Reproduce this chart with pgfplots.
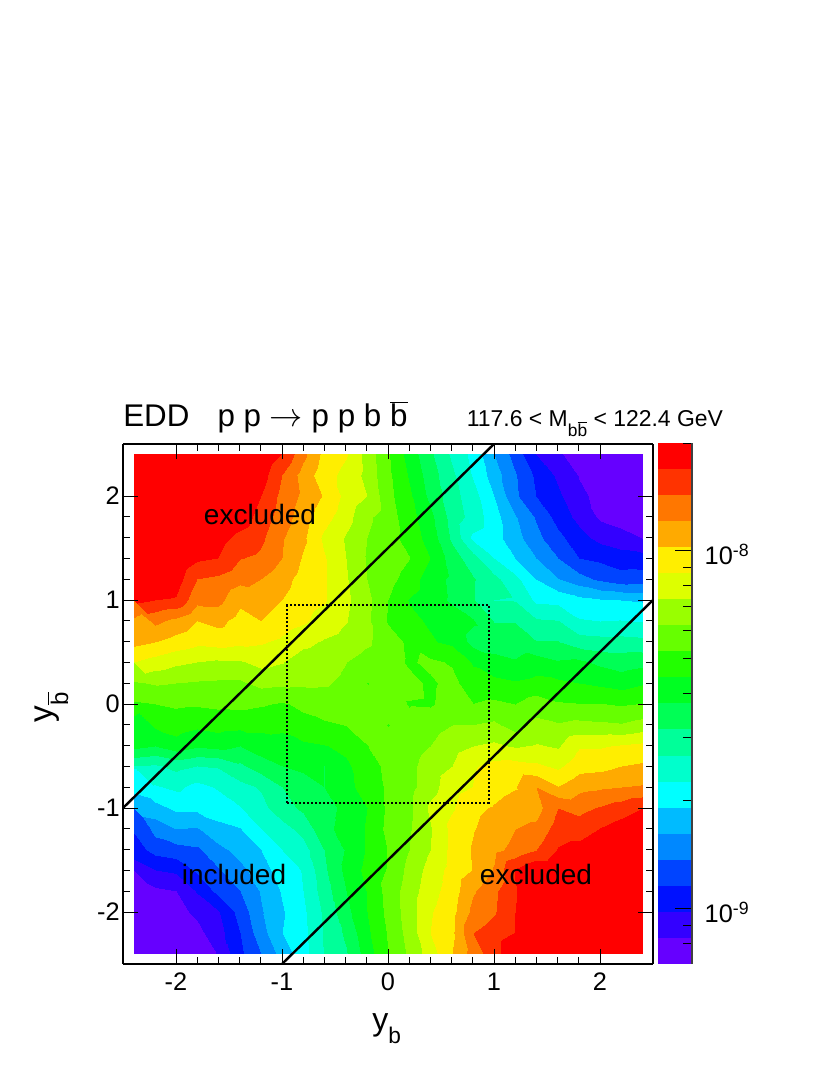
\documentclass[border=0pt]{standalone}
\usepackage{pgfplots}
\usepackage{pgfplotstable}
\usepackage{fontspec}
\setmainfont{Liberation Sans}
\pgfplotsset{compat=1.18}
\pgfplotstableread[row sep=\\,header=false]{
20\\20\\20\\20\\20\\20\\20\\19\\17.3\\15.7\\15.1\\13.6\\12.1\\10.6\\9.2\\7.8\\6.7\\5\\3.6\\2\\1.15\\.5\\.4\\.3\\.2\\
20\\20\\20\\20\\20\\20\\19.5\\18\\16.6\\15.4\\14.7\\13.7\\12.2\\10.9\\9.5\\8.2\\6.9\\5.5\\4.1\\2.8\\1.8\\.95\\.6\\.45\\.3\\
20\\20\\20\\20\\20\\20\\19\\17.7\\16.8\\15.9\\14.7\\14\\12.3\\11.2\\9.75\\8.4\\7.4\\6\\4.2\\3\\2.2\\1.2\\.75\\.5\\.3\\
20\\20\\20\\20\\20\\19.6\\18.6\\17.5\\16.5\\15.4\\14.4\\13.2\\12.5\\11.4\\10.3\\8.6\\7.6\\6.4\\5.1\\3.9\\2.6\\1.7\\.85\\.6\\.35\\
20\\20\\20\\20\\19.4\\18.7\\18.2\\17.1\\16.2\\14.8\\13.9\\13\\12.4\\11.6\\10.6\\8.8\\6.8\\6.4\\5.4\\4.3\\3.3\\2.4\\1.7\\1.35\\1\\
20\\20\\20\\19.2\\19\\18.05\\17.8\\17\\15.9\\15.1\\14\\12.9\\12.8\\12.05\\11\\9.5\\8.4\\7\\6\\5\\4\\3\\2.8\\2.5\\2.4\\
20\\19.8\\19.5\\18\\17.8\\17.3\\17\\16.4\\15.6\\15.1\\14.1\\13\\12.4\\11.5\\10.5\\9.8\\9.1\\8.3\\7.3\\6\\5.05\\4.4\\3.8\\3.4\\3.5\\
19.3\\19\\18.9\\17.3\\17.3\\16.25\\16.5\\16\\15.4\\15.1\\14.2\\13.3\\12\\10.95\\10.5\\9.85\\9.1\\8\\7.95\\6.8\\6.7\\6.3\\6.1\\6\\5.9\\
17.5\\17.25\\16.7\\16\\16.3\\15.6\\16\\15.5\\15.15\\14.6\\14.05\\13.2\\11.9\\11.2\\10.9\\10.5\\10.1\\8.96\\8.95\\8.15\\8.05\\7.1\\7\\7.05\\6.95\\
16.3\\16\\15.6\\15.25\\15.4\\15.2\\15.1\\14.8\\14.25\\13.9\\13.6\\13.15\\12.5\\11.8\\11.1\\10.8\\9.7\\9.6\\9.5\\9.05\\9.05\\8.5\\8.4\\8.4\\8.3\\
15\\14.6\\14.2\\14\\13.85\\13.9\\14.3\\14.05\\13.5\\13.4\\13.02\\12.6\\12.4\\11.88\\12.2\\11.89\\10.9\\10.3\\10.1\\10.5\\10.1\\10.2\\9.8\\9.5\\9.7\\
14\\13.1\\13\\12.9\\12.85\\12.85\\13.3\\13.2\\13.15\\13.1\\12.8\\11.98\\12.3\\12.25\\11.85\\12.3\\11.4\\11.3\\11.1\\11.3\\11.2\\11\\10.8\\10.6\\10.9\\
11.85\\12\\12.15\\12.1\\12.2\\12.25\\12.1\\11.9\\12.2\\12.5\\12.5\\12.5\\12.4\\11.95\\11.9\\12.4\\12.02\\12.2\\12\\12.5\\12.1\\12.03\\12.05\\11.9\\12.05\\
11.27\\11.2\\11.45\\11.2\\11.4\\11.3\\11.27\\11.2\\11.7\\11.85\\12.02\\12.3\\11.98\\12.3\\12.6\\13\\13.02\\13.2\\12.6\\13.3\\13.1\\13.3\\13.2\\13.1\\13.4\\
10.3\\10\\10.6\\10.15\\10.3\\10\\10.5\\10.65\\10.8\\10.95\\11.2\\11.98\\12.3\\12.5\\13\\13.6\\14\\14.2\\13.9\\14.1\\13.9\\14.9\\14.9\\15.1\\15.3\\
8\\7.85\\8.3\\8\\8.1\\8.8\\9.55\\10\\10.2\\10\\10.85\\11.5\\12.3\\12.7\\13.5\\14\\14.9\\15.3\\15.4\\15.2\\14.8\\15.6\\15.7\\16\\16.15\\
7.1\\6.9\\7.2\\6.7\\7.1\\7.7\\8.1\\9\\9.6\\10\\10.8\\11.3\\12.2\\12.7\\13.6\\14.6\\15.03\\15.6\\15.93\\17\\16.05\\16.7\\16.85\\17\\17.1\\
5.4\\5.65\\6.2\\6.25\\6.5\\6.95\\7.7\\8.6\\9.2\\9.6\\10.3\\11\\12.2\\12.8\\14.2\\14.9\\15.8\\16.1\\16.5\\16.6\\18\\17.7\\18.1\\18.5\\19\\
3.75\\4.4\\5\\4.9\\5.7\\5.95\\7\\7.6\\8.35\\9.7\\10.4\\11.1\\12.3\\12.9\\13.9\\15.3\\15.95\\16.4\\17\\17.25\\18.5\\18.5\\19.05\\19.5\\20\\
2.5\\3.35\\3.6\\3.8\\4.7\\5.35\\6\\7\\7.6\\9\\10.1\\11.1\\12.05\\13\\14\\15.3\\16.1\\16.75\\17.3\\18\\19.1\\19.4\\19.9\\20\\20\\
1.4\\2\\2.2\\3.2\\3.9\\4.75\\5.5\\6.6\\7.05\\8.8\\10.3\\11.3\\12.1\\13.3\\14.4\\15.35\\16.05\\17.1\\19.1\\20\\20\\20\\20\\20\\20\\
.7\\.8\\1\\2.1\\3.3\\4\\5.1\\6.1\\7\\8.5\\10\\11.05\\12.4\\13.5\\14.6\\15.5\\16.9\\17.8\\18.9\\20\\20\\20\\20\\20\\20\\
.5\\.6\\.7\\1.2\\1.9\\3.4\\4.9\\5.9\\6.8\\8.2\\9.7\\11\\12.3\\13.5\\14.9\\15.7\\17.3\\17.9\\19\\20\\20\\20\\20\\20\\20\\
.3\\.4\\.5\\.7\\1.6\\3\\4.6\\6\\6.7\\8.1\\9.2\\10.8\\12.1\\13.4\\15\\15.8\\18\\18.5\\19.05\\20\\20\\20\\20\\20\\20\\
.15\\.2\\.3\\.6\\1.05\\2.8\\4\\5.4\\6.6\\8.05\\8.9\\10.5\\12\\13.2\\14.5\\16\\17.45\\18.6\\20\\20\\20\\20\\20\\20\\20\\
}\zdata
\pgfplotsset{
 colormap={edd}{
  rgb255=(102,0,255) rgb255=(51,0,255) rgb255=(0,17,255) rgb255=(0,68,255)
  rgb255=(0,136,255) rgb255=(0,187,255) rgb255=(0,255,255) rgb255=(0,255,204)
  rgb255=(0,255,153) rgb255=(0,255,85) rgb255=(0,255,34) rgb255=(34,255,0)
  rgb255=(102,255,0) rgb255=(153,255,0) rgb255=(221,255,0) rgb255=(255,238,0)
  rgb255=(255,170,0) rgb255=(255,119,0) rgb255=(255,51,0) rgb255=(255,0,0)
  rgb255=(255,0,0)
 }
}
\newcommand\bbar{$\overline{\mbox{b}}$}
\begin{document}
\begin{tikzpicture}[x=1pt,y=1pt]
\path[use as bounding box] (0,0) rectangle (622.5pt,806.25pt);
\begin{axis}[
 at={(92.25pt,83.25pt)},anchor=south west,
 scale only axis,width=397.5pt,height=390pt,
 view={0}{90},
 xmin=-2.5,xmax=2.5,ymin=-2.5,ymax=2.5,zmin=0,zmax=21,
 xtick={-2,-1,0,1,2},ytick={-2,-1,0,1,2},ztick=\empty,
 xticklabels={-2,-1,0,1,2},yticklabels={-2,-1,0,1,2},
 minor x tick num=4,minor y tick num=4,
 tick align=inside,tick pos=both,
 major tick length=11pt,minor tick length=5.5pt,
 tick style={black,line width=0.7pt},
 axis line style={line width=0.8pt},
 ticklabel style={font=\fontsize{19}{22}\selectfont},
 xticklabel style={yshift=-3pt},
 yticklabel style={xshift=1pt},
 axis on top,
 colormap name=edd,
 point meta min=0,point meta max=21,
]
\addplot3[surf,shader=interp,colormap access=piecewise constant,mesh/cols=25,mesh/rows=25,point meta=z]
 table[x index=0,y index=0,z index=0,x expr={-2.4+0.2*mod(\coordindex,25)},y expr={2.4-0.2*floor(\coordindex/25)},z expr=\thisrowno{0}] {\zdata};
\addplot3[black,line width=1.8pt,no marks] coordinates {(-2.5,-1,21)(1,2.5,21)};
\addplot3[black,line width=1.8pt,no marks] coordinates {(-1,-2.5,21)(2.5,1,21)};
\addplot3[black,line width=1.5pt,no marks,dash pattern=on 1.5pt off 1.5pt] coordinates {(-0.95,-0.95,21)(0.95,-0.95,21)(0.95,0.95,21)(-0.95,0.95,21)(-0.95,-0.95,21)};
\end{axis}
\begin{axis}[
 at={(493.5pt,83.25pt)},anchor=south west,
 scale only axis,width=25.5pt,height=390.75pt,
 xmin=0,xmax=1,ymode=log,ymin=7e-10,ymax=2.0e-8,
 axis y line*=right,axis x line=none,
 ytick={1e-9,1e-8},yticklabels={10\textsuperscript{-9},10\textsuperscript{-8}},
 minor ytick={8e-10,9e-10,2e-9,3e-9,4e-9,5e-9,6e-9,7e-9,8e-9,9e-9,2e-8},
 tick align=inside,
 ytick style={black,line width=0.7pt},
 major tick length=12.5pt,minor tick length=6.5pt,
 axis line style={line width=0.8pt,black!75},
 yticklabel style={font=\fontsize{19}{22}\selectfont,xshift=6pt,yshift=-3pt},
 axis on top,
]
\addplot[fill={rgb,255:red,102;green,0;blue,255},draw=none] coordinates {(0,7.00e-10)(1,7.00e-10)(1,8.28e-10)(0,8.28e-10)} --cycle;
\addplot[fill={rgb,255:red,51;green,0;blue,255},draw=none] coordinates {(0,8.28e-10)(1,8.28e-10)(1,9.79e-10)(0,9.79e-10)} --cycle;
\addplot[fill={rgb,255:red,0;green,17;blue,255},draw=none] coordinates {(0,9.79e-10)(1,9.79e-10)(1,1.157e-9)(0,1.157e-9)} --cycle;
\addplot[fill={rgb,255:red,0;green,68;blue,255},draw=none] coordinates {(0,1.157e-9)(1,1.157e-9)(1,1.369e-9)(0,1.369e-9)} --cycle;
\addplot[fill={rgb,255:red,0;green,136;blue,255},draw=none] coordinates {(0,1.369e-9)(1,1.369e-9)(1,1.618e-9)(0,1.618e-9)} --cycle;
\addplot[fill={rgb,255:red,0;green,187;blue,255},draw=none] coordinates {(0,1.618e-9)(1,1.618e-9)(1,1.914e-9)(0,1.914e-9)} --cycle;
\addplot[fill={rgb,255:red,0;green,255;blue,255},draw=none] coordinates {(0,1.914e-9)(1,1.914e-9)(1,2.263e-9)(0,2.263e-9)} --cycle;
\addplot[fill={rgb,255:red,0;green,255;blue,204},draw=none] coordinates {(0,2.263e-9)(1,2.263e-9)(1,2.677e-9)(0,2.677e-9)} --cycle;
\addplot[fill={rgb,255:red,0;green,255;blue,153},draw=none] coordinates {(0,2.677e-9)(1,2.677e-9)(1,3.166e-9)(0,3.166e-9)} --cycle;
\addplot[fill={rgb,255:red,0;green,255;blue,85},draw=none] coordinates {(0,3.166e-9)(1,3.166e-9)(1,3.744e-9)(0,3.744e-9)} --cycle;
\addplot[fill={rgb,255:red,0;green,255;blue,34},draw=none] coordinates {(0,3.744e-9)(1,3.744e-9)(1,4.427e-9)(0,4.427e-9)} --cycle;
\addplot[fill={rgb,255:red,34;green,255;blue,0},draw=none] coordinates {(0,4.427e-9)(1,4.427e-9)(1,5.236e-9)(0,5.236e-9)} --cycle;
\addplot[fill={rgb,255:red,102;green,255;blue,0},draw=none] coordinates {(0,5.236e-9)(1,5.236e-9)(1,6.192e-9)(0,6.192e-9)} --cycle;
\addplot[fill={rgb,255:red,153;green,255;blue,0},draw=none] coordinates {(0,6.192e-9)(1,6.192e-9)(1,7.32e-9)(0,7.32e-9)} --cycle;
\addplot[fill={rgb,255:red,221;green,255;blue,0},draw=none] coordinates {(0,7.32e-9)(1,7.32e-9)(1,8.66e-9)(0,8.66e-9)} --cycle;
\addplot[fill={rgb,255:red,255;green,238;blue,0},draw=none] coordinates {(0,8.66e-9)(1,8.66e-9)(1,1.024e-8)(0,1.024e-8)} --cycle;
\addplot[fill={rgb,255:red,255;green,170;blue,0},draw=none] coordinates {(0,1.024e-8)(1,1.024e-8)(1,1.211e-8)(0,1.211e-8)} --cycle;
\addplot[fill={rgb,255:red,255;green,119;blue,0},draw=none] coordinates {(0,1.211e-8)(1,1.211e-8)(1,1.432e-8)(0,1.432e-8)} --cycle;
\addplot[fill={rgb,255:red,255;green,51;blue,0},draw=none] coordinates {(0,1.432e-8)(1,1.432e-8)(1,1.693e-8)(0,1.693e-8)} --cycle;
\addplot[fill={rgb,255:red,255;green,0;blue,0},draw=none] coordinates {(0,1.693e-8)(1,1.693e-8)(1,2.0e-8)(0,2.0e-8)} --cycle;
\end{axis}
\node[anchor=base west,inner sep=0pt,font=\fontsize{23.5}{26}\selectfont] at (92.25pt,486pt) {EDD};
\node[anchor=base west,inner sep=0pt,font=\fontsize{23.5}{26}\selectfont] at (163pt,486pt) {p p $\rightarrow$ p p b \bbar};
\node[anchor=base west,inner sep=0pt,font=\fontsize{17.2}{20}\selectfont] at (350pt,486pt) {117.6 < M\raisebox{-7pt}{\fontsize{13}{13}\selectfont b\bbar} < 122.4 GeV};
\node[anchor=center,inner sep=0pt,font=\fontsize{21}{24}\selectfont] at (195pt,420.5pt) {excluded};
\node[anchor=center,inner sep=0pt,font=\fontsize{21}{24}\selectfont] at (402pt,150.5pt) {excluded};
\node[anchor=center,inner sep=0pt,font=\fontsize{21}{24}\selectfont] at (175.5pt,150.5pt) {included};
\node[anchor=base,inner sep=0pt,font=\fontsize{24}{26}\selectfont] at (290pt,33.5pt) {y\raisebox{-10pt}{\fontsize{17}{17}\selectfont b}};
\node[anchor=base,rotate=90,inner sep=0pt,font=\fontsize{25}{26}\selectfont] at (39pt,276pt) {y\raisebox{-12pt}{\fontsize{18}{18}\selectfont \bbar}};
\end{tikzpicture}
\end{document}
